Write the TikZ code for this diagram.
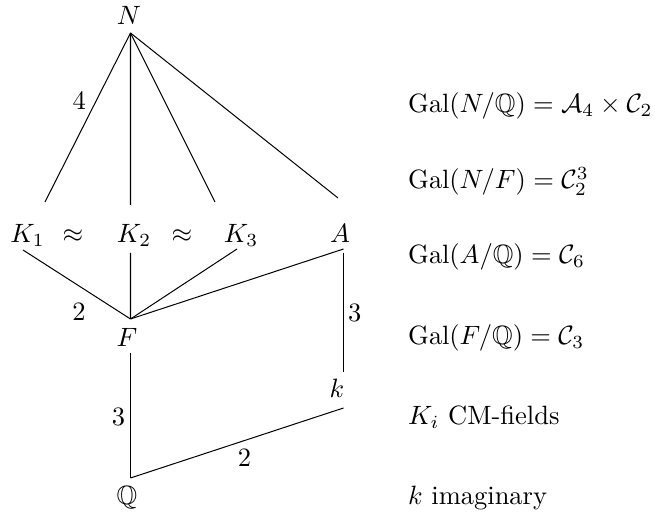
\documentclass[tikz,border=0pt]{standalone}
\usepackage{amsmath,amssymb}
\begin{document}
\begin{tikzpicture}[x=0.3774pt,y=-0.3774pt,
  fld/.style={inner sep=0pt,outer sep=0pt,anchor=base},
  elbl/.style={inner sep=0pt,outer sep=0pt},
  rtxt/.style={inner sep=0pt,outer sep=0pt,anchor=base west},
  link/.style={line width=0.38pt}]
\useasboundingbox (0,0) rectangle (655,517);
% field nodes
\node[fld] (N)   at (129,25)  {$N$};
\node[fld] (K1)  at (27.5,243) {$K_1$};
\node[fld] (ap1) at (73,243)  {$\approx$};
\node[fld] (K2)  at (134,243) {$K_2$};
\node[fld] (ap2) at (182,243) {$\approx$};
\node[fld] (K3)  at (241,243) {$K_3$};
\node[fld] (A)   at (340,243) {$A$};
\node[fld] (F)   at (127,347) {$F$};
\node[fld] (k)   at (337,398) {$k$};
\node[fld] (Q)   at (127,505) {$\mathbb{Q}$};
% connectors
\draw[link] ([shift={(1.5,8)}]N.base) -- node[elbl,pos=0.4,left=3.9pt]{$4$} ([shift={(17.5,-41)}]K1.base);
\draw[link] ([shift={(1.5,8)}]N.base) -- ([shift={(-3.5,-38)}]K2.base);
\draw[link] ([shift={(1.5,8)}]N.base) -- ([shift={(-26,-41)}]K3.base);
\draw[link] ([shift={(1.5,8)}]N.base) -- ([shift={(-2,-45)}]A.base);
\draw[link] ([shift={(-4.5,7)}]K1.base) -- node[elbl,pos=0.52,below=6.6pt]{$2$} ([shift={(3.5,-28)}]F.base);
\draw[link] ([shift={(-3.5,10)}]K2.base) -- ([shift={(3.5,-28)}]F.base);
\draw[link] ([shift={(-4,6)}]K3.base) -- ([shift={(3.5,-28)}]F.base);
\draw[link] ([shift={(3.5,6)}]A.base) -- ([shift={(3.5,-28)}]F.base);
\draw[link] ([shift={(3.5,10)}]A.base) -- node[elbl,pos=0.5,right=1.7pt]{$3$} ([shift={(6.5,-26)}]k.base);
\draw[link] ([shift={(3.5,6)}]F.base) -- node[elbl,pos=0.51,left=2pt]{$3$} ([shift={(3.5,-27)}]Q.base);
\draw[link] ([shift={(3.5,-27)}]Q.base) -- node[elbl,pos=0.535,below=3.4pt]{$2$} ([shift={(6.5,10)}]k.base);
% right-hand notes
\node[rtxt] (g1) at (408,113) {$\mathrm{Gal}(N/\mathbb{Q})=\mathcal{A}_4\times\mathcal{C}_2$};
\node[rtxt] (g2) at (408,189) {$\mathrm{Gal}(N/F)=\mathcal{C}_2^3$};
\node[rtxt] (g3) at (408,264) {$\mathrm{Gal}(A/\mathbb{Q})=\mathcal{C}_6$};
\node[rtxt] (g4) at (408,345) {$\mathrm{Gal}(F/\mathbb{Q})=\mathcal{C}_3$};
\node[rtxt] (g5) at (408,425) {$K_i$ CM-fields};
\node[rtxt] (g6) at (408,505) {$k$ imaginary};
\end{tikzpicture}
\end{document}
